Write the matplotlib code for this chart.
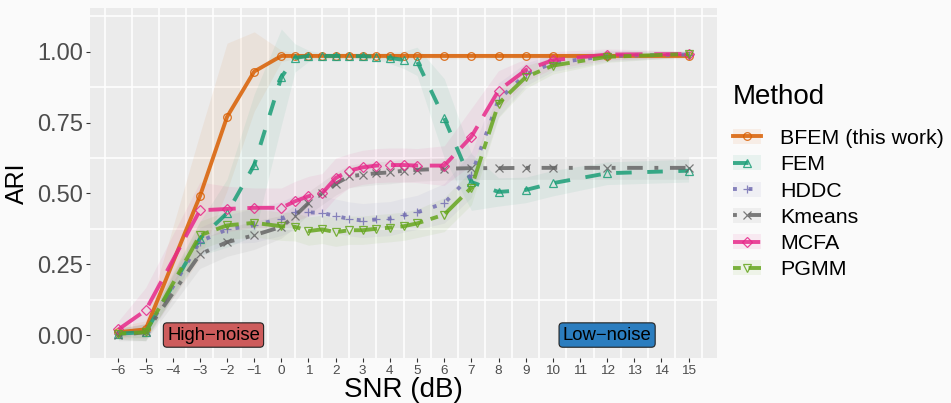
import matplotlib
matplotlib.use("Agg")
import matplotlib.pyplot as plt
from matplotlib.lines import Line2D
from matplotlib.patches import Patch

plt.rcParams['font.family'] = ['Liberation Sans', 'DejaVu Sans']

# data
snr = [-6, -5, -3, -2, -1, 0, 0.5, 1, 1.5, 2, 2.5, 3, 3.5, 4, 4.5, 5, 6, 7, 8, 9, 10, 12, 15]

bfem = [0.01, 0.02, 0.49, 0.77, 0.93, 0.985, 0.985, 0.985, 0.985, 0.985, 0.985, 0.985,
        0.985, 0.985, 0.985, 0.985, 0.985, 0.985, 0.985, 0.985, 0.985, 0.985, 0.985]
fem = [0.005, 0.01, 0.34, 0.43, 0.60, 0.91, 0.978, 0.985, 0.985, 0.985, 0.985, 0.984,
       0.983, 0.978, 0.971, 0.966, 0.765, 0.54, 0.505, 0.512, 0.536, 0.571, 0.58]
hddc = [0.005, 0.01, 0.33, 0.373, 0.387, 0.411, 0.433, 0.433, 0.431, 0.42, 0.41, 0.404,
        0.408, 0.411, 0.423, 0.433, 0.465, 0.565, 0.83, 0.92, 0.96, 0.985, 0.99]
kmeans = [0.0, 0.01, 0.285, 0.328, 0.352, 0.382, 0.42, 0.466, 0.50, 0.534, 0.56, 0.566,
          0.571, 0.574, 0.58, 0.583, 0.587, 0.589, 0.589, 0.59, 0.59, 0.59, 0.59]
mcfa = [0.02, 0.087, 0.44, 0.445, 0.449, 0.449, 0.472, 0.49, 0.50, 0.554, 0.58, 0.592,
        0.598, 0.60, 0.60, 0.598, 0.598, 0.70, 0.863, 0.935, 0.97, 0.99, 0.992]
pgmm = [0.005, 0.01, 0.352, 0.387, 0.396, 0.384, 0.382, 0.367, 0.373, 0.363, 0.37, 0.37,
        0.375, 0.379, 0.384, 0.394, 0.425, 0.52, 0.817, 0.91, 0.951, 0.982, 0.992]

# ribbon half widths
bfem_sd = [0.02, 0.03, 0.22, 0.26, 0.14, 0.02] + [0.01] * 17
fem_sd = [0.01, 0.02, 0.06, 0.12, 0.25, 0.17, 0.05, 0.02, 0.01, 0.01, 0.01, 0.01,
          0.01, 0.02, 0.03, 0.05, 0.14, 0.10, 0.05, 0.045, 0.045, 0.04, 0.04]
hddc_sd = [0.02, 0.03, 0.05, 0.05, 0.06, 0.06, 0.06, 0.06, 0.06, 0.06, 0.06, 0.06,
           0.06, 0.06, 0.06, 0.06, 0.07, 0.08, 0.06, 0.04, 0.03, 0.02, 0.01]
kmeans_sd = [0.02, 0.03, 0.05, 0.05, 0.05] + [0.04] * 18
mcfa_sd = [0.03, 0.08, 0.10, 0.08, 0.07, 0.07, 0.07, 0.07, 0.07, 0.07, 0.06, 0.06,
           0.06, 0.06, 0.06, 0.06, 0.07, 0.10, 0.07, 0.04, 0.03, 0.02, 0.01]
pgmm_sd = [0.02, 0.03, 0.05, 0.05, 0.05] + [0.05] * 11 + [0.06, 0.06, 0.05, 0.04, 0.03, 0.02, 0.01]

methods = ["BFEM (this work)", "FEM", "HDDC", "Kmeans", "MCFA", "PGMM"]
values = [bfem, fem, hddc, kmeans, mcfa, pgmm]
spreads = [bfem_sd, fem_sd, hddc_sd, kmeans_sd, mcfa_sd, pgmm_sd]
colors = ["#D95F02", "#1B9E77", "#7570B3", "#666666", "#E7298A", "#66A61E"]
markers = ["o", "^", "+", "x", "D", "v"]
styles = ["-", (0, (4, 4)), (0, (1, 3)), (0, (1, 3, 4, 3)), (0, (7, 3)), (0, (2, 2, 6, 2))]

fig = plt.figure(figsize=(9.51, 4.03), dpi=100, facecolor="#FAFAFA")
ax = fig.add_axes([0.0946, 0.1117, 0.6594, 0.8683])
ax.set_facecolor("#EBEBEB")

handles = []
for name, y, sd, c, m, ls in zip(methods, values, spreads, colors, markers, styles):
    lo = [a - b for a, b in zip(y, sd)]
    hi = [a + b for a, b in zip(y, sd)]
    ax.fill_between(snr, lo, hi, color=c, alpha=0.07, lw=0, zorder=1)
for name, y, sd, c, m, ls in zip(methods, values, spreads, colors, markers, styles):
    ms = 6 if m in ("+", "x") else 5.5
    if m == "D":
        ms = 5
    ax.plot(snr, y, color=c, lw=2.8, ls=ls, alpha=0.85, zorder=3,
            marker=m, ms=ms, mfc="none", mec=c, mew=0.9)
    key = Line2D([], [], color=c, lw=2.8, ls=ls, alpha=0.85,
                 marker=m, ms=ms, mfc="none", mec=c, mew=0.9)
    handles.append((Patch(facecolor=c, alpha=0.08, lw=0), key))

ax.set_xlim(-7.05, 16.05)
ax.set_ylim(-0.081, 1.154)
ax.set_xticks(range(-6, 16))
ax.set_xticks([i + 0.5 for i in range(-7, 16)], minor=True)
ax.set_yticks([0, 0.25, 0.5, 0.75, 1.0])
ax.set_yticklabels(["0.00", "0.25", "0.50", "0.75", "1.00"])
ax.set_yticks([0.125, 0.375, 0.625, 0.875, 1.125], minor=True)
ax.grid(which="minor", color="white", lw=1.1, zorder=0)
ax.grid(which="major", visible=False)
ax.set_axisbelow(True)
for s in ax.spines.values():
    s.set_visible(False)
ax.tick_params(which="minor", length=0)
ax.tick_params(axis="x", which="major", length=3, color="#333333", labelsize=9.7,
               labelcolor="#4D4D4D", pad=2)
ax.tick_params(axis="y", which="major", length=3, color="#333333", labelsize=17,
               labelcolor="#4D4D4D", pad=2)
ax.set_xlabel("SNR (dB)", fontsize=20, labelpad=0)
ax.set_ylabel("ARI", fontsize=18, labelpad=6)

ax.text(-2.5, 0.0, "High\u2212noise", fontsize=13.3, ha="center", va="center", zorder=5,
        bbox=dict(boxstyle="round,pad=0.2,rounding_size=0.2", fc="#CD5C5C", ec="#222222", lw=0.8))
ax.text(12.0, 0.0, "Low\u2212noise", fontsize=13.3, ha="center", va="center", zorder=5,
        bbox=dict(boxstyle="round,pad=0.2,rounding_size=0.2", fc="#2B7DBF", ec="#222222", lw=0.8))

fig.text(0.7708, 1 - 97 / 403, "Method", fontsize=20, ha="left", va="center")
fig.legend(handles, methods, loc="upper left", bbox_to_anchor=(0.7708, 0.68),
           frameon=False, fontsize=15.4, handlelength=1.3, handletextpad=0.9,
           labelspacing=0.34, borderaxespad=0, borderpad=0)

fig.savefig("out.png", dpi=100, facecolor=fig.get_facecolor())
